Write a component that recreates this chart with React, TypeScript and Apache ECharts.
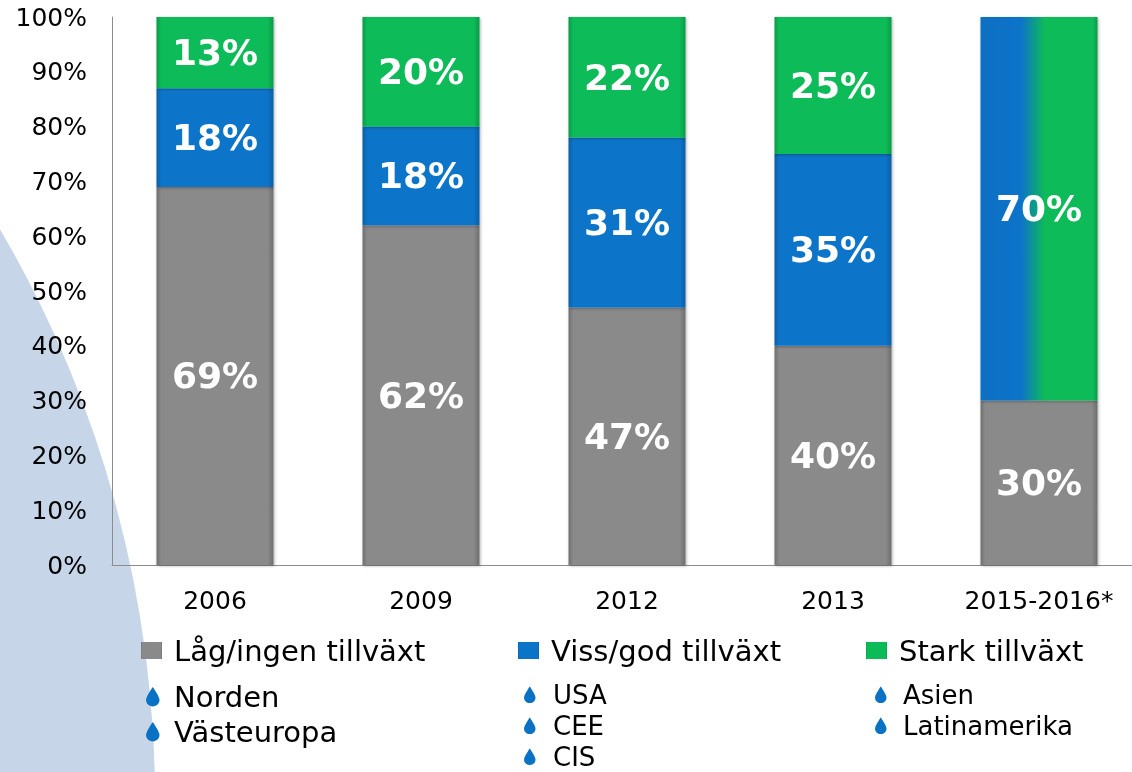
import React, { useEffect, useRef } from 'react';
import * as echarts from 'echarts';

const categories = ['2006', '2009', '2012', '2013', '2015-2016*'];
const lowGrowth = [69, 62, 47, 40, 30];
const someGrowth = [18, 18, 31, 35, 70];
const strongGrowth: (number | null)[] = [13, 20, 22, 25, null];
const seriesNames = ['Låg/ingen tillväxt', 'Viss/god tillväxt', 'Stark tillväxt'];
const lowRegions = ['Norden', 'Västeuropa'];
const someRegions = ['USA', 'CEE', 'CIS'];
const strongRegions = ['Asien', 'Latinamerika'];

const FONT = 'DejaVu Sans';
const GRAY = '#8a8a8a';
const BLUE = '#0a74c9';
const GREEN = '#0bbb58';
const DROP = '#0a72c4';

echarts.graphic.registerShape(
  'drop',
  echarts.graphic.extendPath(
    'M5 0 C5 0 0 7 0 9.6 C0 12.4 2.2 14.5 5 14.5 C7.8 14.5 10 12.4 10 9.6 C10 7 5 0 5 0 Z',
    {}
  )
);

function edgeGradient(base: string, dark: string) {
  return new echarts.graphic.LinearGradient(0, 0, 1, 0, [
    { offset: 0, color: dark },
    { offset: 0.04, color: base },
    { offset: 0.95, color: base },
    { offset: 1, color: dark },
  ]);
}

function regionGraphics(names: string[], dropX: number, textX: number, y0: number, step: number, size: number, scale: number) {
  const els: any[] = [];
  names.forEach((n, i) => {
    const y = y0 + i * step;
    els.push({
      type: 'drop',
      x: dropX,
      y: y - 7.5 * scale,
      scaleX: scale,
      scaleY: scale,
      style: { fill: DROP },
    });
    els.push({
      type: 'text',
      x: textX,
      y,
      style: { text: n, fontFamily: FONT, fontSize: size, fill: '#000', verticalAlign: 'middle', align: 'left' },
    });
  });
  return els;
}

export default function App() {
  const ref = useRef<HTMLDivElement>(null);
  useEffect(() => {
    if (!ref.current) return;
    const chart = echarts.init(ref.current, undefined, { renderer: 'svg' });
    const labelStyle = {
      show: true,
      position: 'inside',
      color: '#fff',
      fontFamily: FONT,
      fontWeight: 'bold',
      fontSize: 36,
      formatter: (p: any) => (p.value == null || p.value === '-' ? '' : p.value + '%'),
    };
    const barCommon = {
      type: 'bar',
      stack: 'total',
      barWidth: 117,
      label: labelStyle,
    };
    const legendCommon = {
      itemWidth: 21,
      itemHeight: 17,
      icon: 'rect',
      padding: 0,
      textStyle: { fontFamily: FONT, fontSize: 29, color: '#000', padding: [0, 0, 0, 7] },
      selectedMode: false,
    };
    const blueData: any[] = someGrowth.map((v, i) =>
      i === someGrowth.length - 1
        ? {
            value: v,
            itemStyle: {
              color: new echarts.graphic.LinearGradient(0, 0, 1, 0, [
                { offset: 0, color: '#0a6fc2' },
                { offset: 0.35, color: BLUE },
                { offset: 0.55, color: GREEN },
                { offset: 0.96, color: GREEN },
                { offset: 1, color: '#07994a' },
              ]),
            },
          }
        : v
    );
    chart.setOption({
      animation: false,
      textStyle: { fontFamily: FONT },
      grid: { left: 112, width: 1030, top: 17, bottom: 207, containLabel: false, outerBoundsMode: 'none' },
      legend: [
        { ...legendCommon, data: [seriesNames[0]], left: 141, top: 636 },
        { ...legendCommon, data: [seriesNames[1]], left: 518, top: 636 },
        { ...legendCommon, data: [seriesNames[2]], left: 866, top: 636 },
      ],
      xAxis: {
        type: 'category',
        data: categories,
        axisLine: { show: true, lineStyle: { color: '#8c8c8c', width: 1 } },
        axisTick: { show: false },
        axisLabel: { fontFamily: FONT, fontSize: 25, color: '#000', margin: 23 },
      },
      yAxis: {
        type: 'value',
        min: 0,
        max: 100,
        interval: 10,
        axisLine: { show: true, lineStyle: { color: '#8c8c8c', width: 1 } },
        axisTick: { show: false },
        splitLine: { show: false },
        axisLabel: { fontFamily: FONT, fontSize: 25, color: '#000', margin: 25, formatter: '{value}%' },
      },
      graphic: [
        {
          type: 'circle',
          z: -10,
          shape: { cx: -973, cy: 800, r: 1128 },
          style: { fill: '#c6d6e8' },
          silent: true,
        },
        ...regionGraphics(lowRegions, 146, 174, 697, 35, 29, 1.35),
        ...regionGraphics(someRegions, 524, 553, 695, 31, 26, 1.15),
        ...regionGraphics(strongRegions, 875, 903, 695, 31, 26, 1.15),
      ],
      series: [
        {
          ...barCommon,
          name: seriesNames[0],
          data: lowGrowth,
          itemStyle: { color: edgeGradient(GRAY, '#6e6e6e'), shadowBlur: 3, shadowColor: 'rgba(0,0,0,0.3)', shadowOffsetX: 1, shadowOffsetY: 1 },
        },
        {
          ...barCommon,
          name: seriesNames[1],
          data: blueData,
          itemStyle: { color: edgeGradient(BLUE, '#075ea4'), shadowBlur: 3, shadowColor: 'rgba(0,0,0,0.3)', shadowOffsetX: 1, shadowOffsetY: 1 },
        },
        {
          ...barCommon,
          name: seriesNames[2],
          data: strongGrowth.map((v) => (v == null ? '-' : v)),
          itemStyle: { color: edgeGradient(GREEN, '#079a47'), shadowBlur: 3, shadowColor: 'rgba(0,0,0,0.3)', shadowOffsetX: 1, shadowOffsetY: 1 },
        },
      ],
    });
    return () => chart.dispose();
  }, []);
  return <div ref={ref} style={{ position: 'fixed', left: 0, top: 0, width: 1132, height: 772 }} />;
}
